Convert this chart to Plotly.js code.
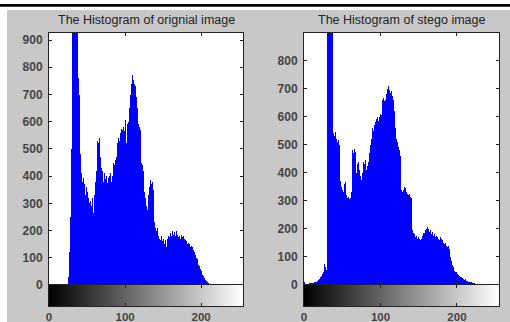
<!DOCTYPE html>
<html>
<head>
<meta charset="utf-8">
<script src="https://cdn.plot.ly/plotly-3.0.1.min.js"></script>
<style>html,body{margin:0;padding:0;background:#fff;}#chart{width:510px;height:322px;}</style>
</head>
<body>
<div id="chart"></div>
<script>
// Intensity levels (bins) 0..255
const levels = Array.from({length: 256}, (_, i) => i);

// Histogram of original image: counts per grey level
const originalCounts = [
  0,0,0,0,0,0,0,0,0,0, 0,0,0,0,0,0,0,0,0,0,
  0,0,0,0,0,8,30,120,250,400, 500,1900,2600,3200,2800,2300,1700,1300,820,760,
  700,480,440,410,380,395,350,370,330,360, 310,340,320,300,330,310,290,320,265,300,
  330,380,420,470,530,520,540,510,470,430, 420,400,380,410,390,380,400,375,395,385,
  400,410,380,400,420,450,440,460,455,470, 520,540,550,530,560,575,660,570,580,565,
  590,605,520,590,600,620,650,700,740,787, 770,755,740,720,730,690,650,600,590,580,
  570,500,450,440,420,380,340,320,290,275, 300,330,360,385,390,370,380,350,300,230,
  210,200,190,210,180,170,190,165,180,160, 170,175,150,165,140,160,170,180,175,185,
  190,180,200,190,185,195,180,190,200,185, 175,190,180,170,185,175,165,180,170,165,
  175,160,150,155,145,150,140,145,135,140, 130,120,115,110,100,95,85,75,68,60,
  52,45,38,32,26,22,18,14,10,8, 6,4,3,2,1,0,0,0,0,0,
  0,0,0,0,0,0,0,0,0,0, 0,0,0,0,0,0,0,0,0,0,
  0,0,0,0,0,0,0,0,0,0, 0,0,0,0,0,0,0,0,0,0,
  0,0,0,0,0,0
];

// Histogram of stego image: counts per grey level
const stegoCounts = [
  20,10,4,4,5,5,5,6,6,6, 7,7,8,8,9,10,11,13,15,17,
  20,24,28,33,40,48,60,75,65,55, 90,1900,2500,3100,2900,2400,1800,1400,1100,540,
  530,545,520,530,510,515,500,420,370,350, 340,345,330,360,367,340,320,310,315,305,
  320,310,330,480,490,470,485,475,420,400, 430,440,420,410,390,375,400,420,440,430,
  445,420,410,425,440,455,470,500,520,540, 560,550,570,580,575,590,600,585,595,600,
  610,605,615,660,665,655,670,660,680,700, 710,690,695,685,690,680,675,660,620,600,
  560,520,510,500,490,480,460,340,335,330, 340,350,368,345,330,325,330,320,325,315,
  320,310,195,185,180,175,170,175,165,160, 170,165,160,170,165,175,185,190,185,195,
  200,205,195,200,190,195,185,180,190,175, 185,180,170,175,165,170,165,160,170,160,
  165,160,150,155,145,150,140,145,135,138, 130,115,100,85,70,64,55,50,48,45,
  40,38,35,32,34,30,28,25,22,20, 18,20,16,15,13,12,11,10,9,9,
  8,7,6,6,5,5,4,4,3,3, 2,2,0,0,0,0,0,0,0,0,
  0,0,0,0,0,0,0,0,0,0, 0,0,0,0,0,0,0,0,0,0,
  0,0,0,0,0,0
];

const titles = ['The Histogram of orignial image', 'The Histogram of stego image'];
const xTicks = [0, 100, 200];
const yTicksOriginal = [0, 100, 200, 300, 400, 500, 600, 700, 800, 900];
const yTicksStego = [0, 100, 200, 300, 400, 500, 600, 700, 800];
const yMaxOriginal = 926;
const yMaxStego = 898;

const W = 510, H = 322;
const px = v => v / W;
const py = v => 1 - v / H;

const barStyle = {type: 'bar', marker: {color: '#0000ff', line: {width: 0}}, width: 1, hoverinfo: 'skip'};
const traces = [
  Object.assign({x: levels, y: originalCounts, xaxis: 'x', yaxis: 'y'}, barStyle),
  Object.assign({x: levels, y: stegoCounts, xaxis: 'x2', yaxis: 'y2'}, barStyle),
  {type: 'heatmap', x: levels, y: [0], z: [levels], xaxis: 'x3', yaxis: 'y3', zmin: 0, zmax: 255,
   colorscale: [[0, '#000000'], [1, '#ffffff']], showscale: false, hoverinfo: 'skip'},
  {type: 'heatmap', x: levels, y: [0], z: [levels], xaxis: 'x4', yaxis: 'y4', zmin: 0, zmax: 255,
   colorscale: [[0, '#000000'], [1, '#ffffff']], showscale: false, hoverinfo: 'skip'}
];

const tickFont = {family: 'Liberation Sans, Arial, sans-serif', size: 12, color: '#444', weight: 'bold'};
const xTickFont = {family: 'Liberation Sans, Arial, sans-serif', size: 11.5, color: '#444', weight: 'bold'};
const lineCol = '#222';
const histDomY = [py(285), py(33)];
const barDomY = [py(306), py(285)];
const leftDom = [px(49), px(243)];
const rightDom = [px(304), px(499)];

function histX(dom, anchor) {
  return {domain: dom, anchor: anchor, range: [0, 255], tickvals: xTicks, showticklabels: false,
    ticks: 'inside', ticklen: 3, tickcolor: lineCol, showline: true, linecolor: lineCol, linewidth: 1,
    mirror: 'ticks', showgrid: false, zeroline: false, fixedrange: true};
}
function histY(anchor, max, ticks) {
  return {domain: histDomY, anchor: anchor, range: [0, max], tickvals: ticks,
    ticks: 'inside', ticklen: 3, tickcolor: lineCol, showline: true, linecolor: lineCol, linewidth: 1,
    mirror: 'ticks', showgrid: false, zeroline: false, tickfont: tickFont, ticklabelstandoff: 3, fixedrange: true};
}
function barX(dom, anchor) {
  return {domain: dom, anchor: anchor, range: [0, 255], tickvals: xTicks,
    ticks: 'inside', ticklen: 3, tickcolor: lineCol, showline: true, linecolor: lineCol, linewidth: 1,
    mirror: 'ticks', showgrid: false, zeroline: false, tickfont: xTickFont, ticklabelstandoff: 0, fixedrange: true};
}
function barY(anchor) {
  return {domain: barDomY, anchor: anchor, range: [-0.5, 0.5], showticklabels: false, ticks: '',
    showline: true, linecolor: lineCol, linewidth: 1, mirror: true, showgrid: false, zeroline: false, fixedrange: true};
}

const layout = {
  width: W, height: H,
  margin: {l: 0, r: 0, t: 0, b: 0},
  paper_bgcolor: '#c8c8c8',
  plot_bgcolor: '#ffffff',
  showlegend: false,
  bargap: 0,
  xaxis: histX(leftDom, 'y'),
  yaxis: histY('x', yMaxOriginal, yTicksOriginal),
  xaxis2: histX(rightDom, 'y2'),
  yaxis2: histY('x2', yMaxStego, yTicksStego),
  xaxis3: barX(leftDom, 'y3'),
  yaxis3: barY('x3'),
  xaxis4: barX(rightDom, 'y4'),
  yaxis4: barY('x4'),
  shapes: [
    {type: 'rect', xref: 'paper', yref: 'paper', x0: 0, x1: 1, y0: py(10), y1: 1, fillcolor: '#ffffff', line: {width: 0}},
    {type: 'rect', xref: 'paper', yref: 'paper', x0: 0, x1: px(7), y0: 0, y1: 1, fillcolor: '#ffffff', line: {width: 0}},
    {type: 'rect', xref: 'paper', yref: 'paper', x0: 0, x1: 1, y0: py(6.7), y1: py(4), fillcolor: '#000000', line: {width: 0}}
  ],
  annotations: [
    {text: titles[0], xref: 'paper', yref: 'paper', x: (leftDom[0] + leftDom[1]) / 2, y: py(20),
     xanchor: 'center', yanchor: 'middle', showarrow: false,
     font: {family: 'Liberation Sans, Arial, sans-serif', size: 12.5, color: '#222'}},
    {text: titles[1], xref: 'paper', yref: 'paper', x: (rightDom[0] + rightDom[1]) / 2, y: py(20),
     xanchor: 'center', yanchor: 'middle', showarrow: false,
     font: {family: 'Liberation Sans, Arial, sans-serif', size: 12.5, color: '#222'}}
  ]
};

Plotly.newPlot('chart', traces, layout, {staticPlot: true, displayModeBar: false});
</script>
</body>
</html>
